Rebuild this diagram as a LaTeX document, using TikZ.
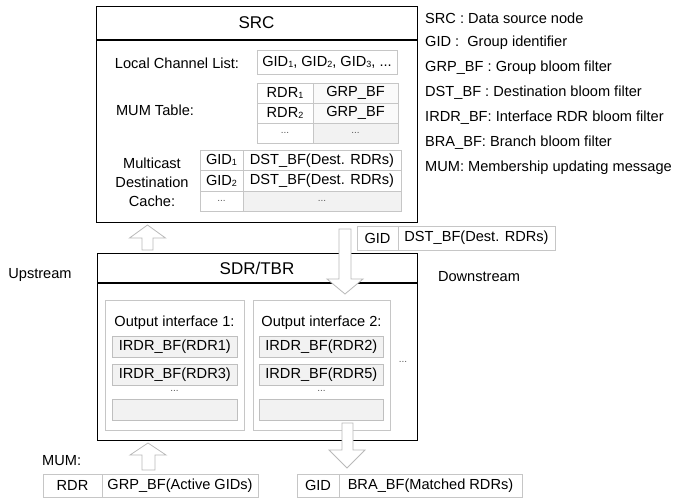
\documentclass[tikz,border=0pt]{standalone}
\usepackage{fontspec}
\setmainfont{Liberation Sans}
\usetikzlibrary{positioning}
\newcommand{\idx}[1]{\raisebox{-0.15ex}{\fontsize{9}{9}\selectfont #1}}

\begin{document}
\begin{tikzpicture}[x=1pt, y=-1pt,
  every node/.style={font=\fontsize{14.6}{18}\selectfont, inner sep=0pt},
  frame/.style={draw=black, line width=1.3pt, fill=white, anchor=north west},
  title/.style={font=\fontsize{17}{20}\selectfont},
  cell/.style={draw=gray!45, line width=0.7pt, fill=white, outer sep=0pt, anchor=north west},
  shade/.style={cell, fill=gray!10},
  iface/.style={draw=gray!45, line width=0.7pt, fill=white, anchor=north west},
  bfbox/.style={draw=gray!50, line width=0.7pt, fill=gray!10, anchor=north west, minimum height=21},
  dots/.style={font=\fontsize{10}{10}\selectfont, text=gray!70!black},
  hollow/.style={draw=gray!55, line width=0.8pt, fill=white, line join=miter},
  legend/.style={anchor=west}
]
\useasboundingbox (0,0) rectangle (678,500);

% SRC node
\node[frame, minimum width=321, minimum height=216] (src) at (96,6) {};
\node[title] (srctitle) at (256.5,23) {SRC};
\draw[line width=1.3pt] ([yshift=-34pt]src.north west) -- ([yshift=-34pt]src.north east);

% Local channel list
\node (lcltext) at (177,63) {Local Channel List:};
\node[cell, minimum width=140, minimum height=24] (lcl) at (257,50) {GID\idx1, GID\idx2, GID\idx3, ...};

% MUM table
\node (mumtext) at (155,110) {MUM Table:};
\node[cell, minimum width=56, minimum height=20] (rdr1) at (257,83) {RDR\idx1};
\node[cell, fill=gray!4, minimum width=85, minimum height=20, right=0pt of rdr1] (grp1) {GRP\_BF};
\node[cell, minimum width=56, minimum height=20, below=0pt of rdr1] (rdr2) {RDR\idx2};
\node[cell, fill=gray!4, minimum width=85, minimum height=20, right=0pt of rdr2] (grp2) {GRP\_BF};
\node[cell, dots, minimum width=56, minimum height=20, below=0pt of rdr2] (rdrdots) {...};
\node[shade, dots, minimum width=85, minimum height=20, right=0pt of rdrdots] (grpdots) {...};

% Multicast destination cache
\node[align=center, font=\fontsize{14.6}{19}\selectfont] (mdctext) at (152,182) {Multicast\\Destination\\Cache:};
\node[cell, minimum width=43, minimum height=20.5] (gid1) at (200,150) {GID\idx1};
\node[cell, minimum width=158, minimum height=20.5, right=0pt of gid1] (dst1) {DST\_BF(Dest. RDRs)};
\node[cell, minimum width=43, minimum height=20.5, below=0pt of gid1] (gid2) {GID\idx2};
\node[cell, minimum width=158, minimum height=20.5, right=0pt of gid2] (dst2) {DST\_BF(Dest. RDRs)};
\node[cell, dots, minimum width=43, minimum height=20.5, below=0pt of gid2] (giddots) {...};
\node[shade, dots, minimum width=158, minimum height=20.5, right=0pt of giddots] (dstdots) {...};

% Legend
\node[legend] (lsrc) at (425,18) {SRC : Data source node};
\node[legend] (lgid) at (425,43) {GID :\ \ Group identifier};
\node[legend] (lgrp) at (425,68) {GRP\_BF : Group bloom filter};
\node[legend] (ldst) at (425,93) {DST\_BF : Destination bloom filter};
\node[legend] (lirdr) at (425,118) {IRDR\_BF: Interface RDR bloom filter};
\node[legend] (lbra) at (425,143) {BRA\_BF: Branch bloom filter};
\node[legend] (lmum) at (425,168) {MUM: Membership updating message};

% Message from SRC
\node[cell, minimum width=41, minimum height=24] (msggid) at (357,226) {GID};
\node[cell, minimum width=157, minimum height=24, right=0pt of msggid] (msgdst) {DST\_BF(Dest. RDRs)};

% SDR/TBR node
\node[frame, minimum width=320, minimum height=187] (sdr) at (97,253) {};
\node[title] (sdrtitle) at (257,268) {SDR/TBR};
\draw[line width=1.3pt] ([yshift=-30pt]sdr.north west) -- ([yshift=-30pt]sdr.north east);

\node (up) at (40,275) {Upstream};
\node (down) at (479,277) {Downstream};

% Output interfaces
\node[iface, minimum width=139, minimum height=130] (if1) at (105,300) {};
\node (if1text) at (174.5,323) {Output interface 1:};
\node[bfbox, minimum width=125] (bf1) at (112,336) {IRDR\_BF(RDR1)};
\node[bfbox, minimum width=125] (bf3) at (112,364) {IRDR\_BF(RDR3)};
\node[dots] (if1dots) at (174.5,391) {...};
\node[bfbox, minimum width=125] (bf1e) at (112,399) {};

\node[iface, minimum width=137, minimum height=130] (if2) at (253,300) {};
\node (if2text) at (321.5,323) {Output interface 2:};
\node[bfbox, minimum width=124] (bf2) at (259,336) {IRDR\_BF(RDR2)};
\node[bfbox, minimum width=124] (bf5) at (259,364) {IRDR\_BF(RDR5)};
\node[dots] (if2dots) at (321.5,391) {...};
\node[bfbox, minimum width=124] (bf2e) at (259,399) {};

\node[dots] (moreif) at (403,362) {...};

% Bottom messages
\node[anchor=west] (mumlabel) at (42,461) {MUM:};
\node[cell, minimum width=59, minimum height=23] (mumrdr) at (43,474) {RDR};
\node[cell, minimum width=156, minimum height=23, right=0pt of mumrdr] (mumgrp) {GRP\_BF(Active GIDs)};
\node[cell, minimum width=42, minimum height=23] (bragid) at (297,474) {GID};
\node[cell, minimum width=183, minimum height=23, right=0pt of bragid] (brabf) {BRA\_BF(Matched RDRs)};

% Hollow arrows
\draw[hollow] (142,250) -- (142,238) -- (129.5,238) -- (147.5,225) -- (165.5,238) -- (153,238) -- (153,250) -- cycle;
\draw[hollow] (339,229) -- (339,279) -- (327,279) -- (345,294) -- (363,279) -- (351,279) -- (351,229) -- cycle;
\draw[hollow] (142,470) -- (142,455) -- (130,455) -- (148,443) -- (166,455) -- (155,455) -- (155,470) -- cycle;
\draw[hollow] (342,423) -- (342,450) -- (329,450) -- (347,468) -- (365,450) -- (353,450) -- (353,423) -- cycle;

\end{tikzpicture}
\end{document}
